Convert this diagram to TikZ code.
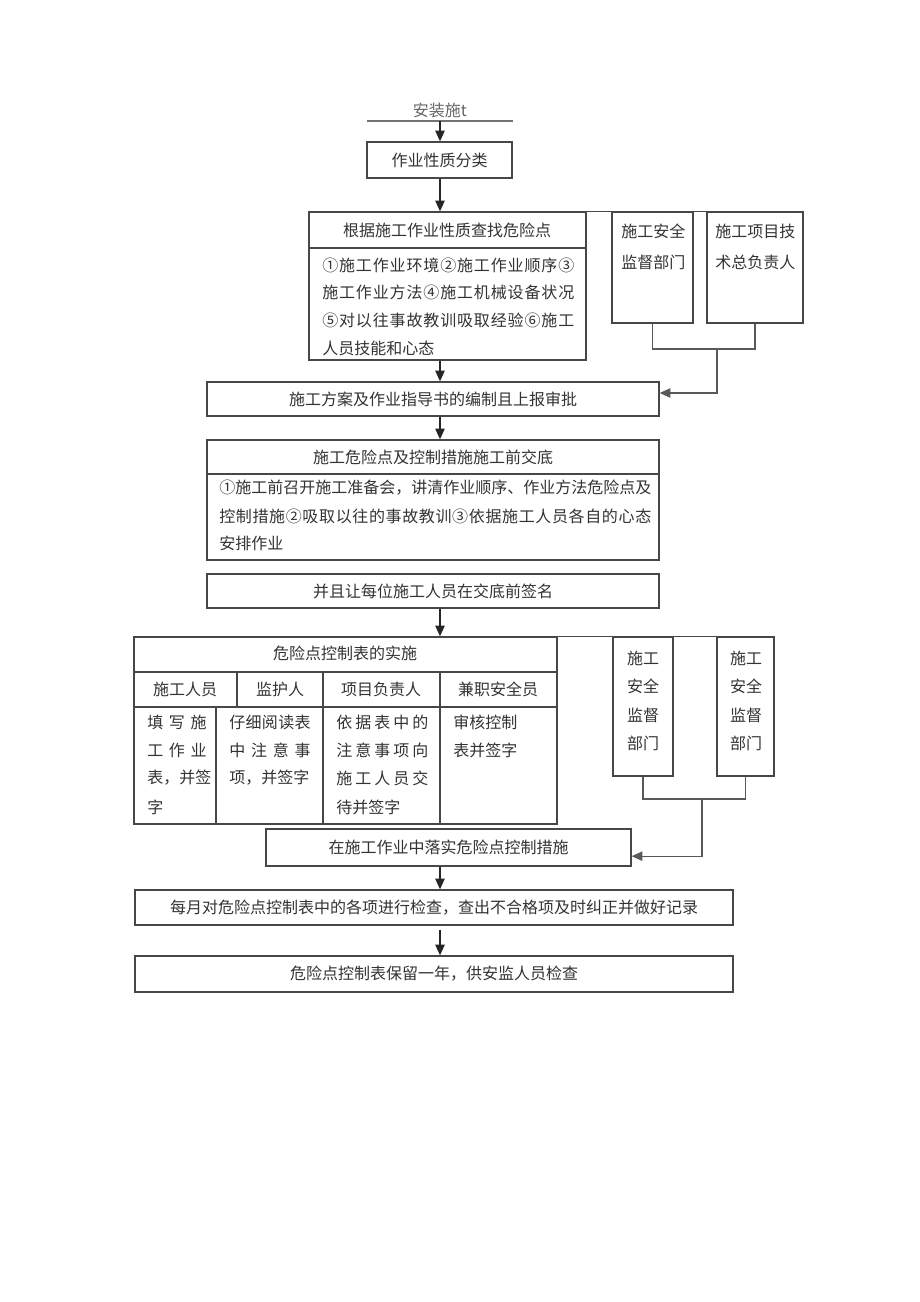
\documentclass[tikz,border=0pt]{standalone}
\usepackage{fontspec}
\setmainfont{Noto Sans CJK SC}
\usetikzlibrary{arrows.meta,fit}
\def\sprdEnd{sprdend}
\def\sprd#1{\sprdA#1\sprdEnd}
\def\sprdA#1{\ifx#1\sprdEnd\else#1\expandafter\sprdB\fi}
\def\sprdB#1{\ifx#1\sprdEnd\else\hfil#1\expandafter\sprdB\fi}
\newcommand\spl[2]{\hbox to #1pt{\sprd{#2}}}
\begin{document}
\begin{tikzpicture}[x=0.75pt,y=-0.75pt,
  txt/.style={inner sep=0pt,text=black!80,font=\fontsize{12}{14}\selectfont},
  tl/.style={txt,anchor=west},
  box/.style={draw=black!72,line width=1pt,inner sep=0pt},
  boxline/.style={draw=black!72,line width=1pt},
  cline/.style={draw=black!65,line width=0.8pt},
  arr/.style={draw=black!85,line width=1pt,-{Triangle[width=7pt,length=8pt]}},
  carr/.style={cline,-{Triangle[width=7pt,length=8pt]}}]
\fill[white] (0,0) rectangle (920,1302);
\useasboundingbox (0,0) rectangle (920,1302);
\coordinate (sx) at (440,0);
% title
\node[txt,text=black!60] (T) at (440,110) {安装施t};
\coordinate (ul) at (367,121);
\coordinate (ur) at (513,121);
\coordinate (ua) at (440,121);
\draw[draw=black!55,line width=0.8pt] (ul) -- (ur);
\node[box,fit={(367,142)(512,178)}] (B1) {};
\node[txt] (B1t) at (B1.center) {作业性质分类};
\draw[arr] (ua) -- (ua |- B1.north);
% B2
\node[box,fit={(309,212)(586,360)}] (B2) {};
\coordinate (d2) at (0,248);
\draw[boxline] (B2.west |- d2) -- (B2.east |- d2);
\node[txt] (B2t) at (447,230) {根据施工作业性质查找危险点};
\node[tl] (B2a) at (322,265) {\spl{189}{①施工作业环境②施工作业顺序③}};
\node[tl] (B2b) at (322,292) {\spl{189}{施工作业方法④施工机械设备状况}};
\node[tl] (B2c) at (322,320) {\spl{189}{⑤对以往事故教训吸取经验⑥施工}};
\node[tl] (B2d) at (322,348) {人员技能和心态};
\draw[arr] (B1.south -| sx) -- (B2.north -| sx);
% right boxes top
\node[box,fit={(612,212)(693,323)}] (R1) {};
\node[tl] (R1a) at (621,231) {施工安全};
\node[tl] (R1b) at (621,262) {监督部门};
\node[box,fit={(707,212)(803,323)}] (R2) {};
\node[tl] (R2a) at (715,231) {施工项目技};
\node[tl] (R2b) at (715,262) {术总负责人};
\draw[boxline] (B2.north east) -- (R2.north east);
% B3
\node[box,fit={(207,382)(659,416)}] (B3) {};
\node[txt] (B3t) at (B3.center) {施工方案及作业指导书的编制且上报审批};
\draw[arr] (B2.south -| sx) -- (B3.north -| sx);
\coordinate (j1) at (717,349);
\draw[cline] (R1.south) |- (j1) -| (R2.south);
\draw[carr] (j1) |- ([yshift=4.5pt]B3.east);
% B4
\node[box,fit={(207,440)(659,560)}] (B4) {};
\coordinate (d4) at (0,474);
\draw[boxline] (B4.west |- d4) -- (B4.east |- d4);
\node[txt] (B4t) at (433,457) {施工危险点及控制措施施工前交底};
\node[tl] (B4a) at (219,488) {\spl{324}{①施工前召开施工准备会，讲清作业顺序、作业方法危险点及}};
\node[tl] (B4b) at (219,516) {\spl{324}{控制措施②吸取以往的事故教训③依据施工人员各自的心态}};
\node[tl] (B4c) at (219,543) {安排作业};
\draw[arr] (B3.south -| sx) -- (B4.north -| sx);
% B5
\node[box,fit={(207,574)(659,608)}] (B5) {};
\node[txt] (B5t) at (B5.center) {并且让每位施工人员在交底前签名};
% table
\node[box,fit={(134,637)(557,824)}] (TB) {};
\draw[arr] (B5.south -| sx) -- (TB.north -| sx);
\coordinate (h1) at (0,672);
\coordinate (h2) at (0,707);
\coordinate (c1) at (237,0);
\coordinate (c1b) at (216,0);
\coordinate (c2) at (323,0);
\coordinate (c3) at (440,0);
\draw[boxline] (TB.west |- h1) -- (TB.east |- h1);
\draw[boxline] (TB.west |- h2) -- (TB.east |- h2);
\draw[boxline] (h1 -| c1) -- (h2 -| c1);
\draw[boxline] (h2 -| c1b) -- (TB.south -| c1b);
\draw[boxline] (h1 -| c2) -- (TB.south -| c2);
\draw[boxline] (h1 -| c3) -- (TB.south -| c3);
\node[txt] (TBt) at (345,653) {危险点控制表的实施};
\node[txt] (H1) at (185,689) {施工人员};
\node[txt] (H2) at (280,689) {监护人};
\node[txt] (H3) at (381,689) {项目负责人};
\node[txt] (H4) at (498,689) {兼职安全员};
\node[tl] (C1a) at (147,722) {\spl{44.5}{填写施}};
\node[tl] (C1b) at (147,750) {\spl{44.5}{工作业}};
\node[tl] (C1c) at (147,778) {\spl{44.5}{表，并签}};
\node[tl] (C1d) at (147,807) {字};
\node[tl] (C2a) at (229,722) {\spl{61}{仔细阅读表}};
\node[tl] (C2b) at (229,750) {\spl{61}{中注意事}};
\node[tl] (C2c) at (229,778) {\spl{58}{项，并签字}};
\node[tl] (C3a) at (336,722) {\spl{69}{依据表中的}};
\node[tl] (C3b) at (336,750) {\spl{69}{注意事项向}};
\node[tl] (C3c) at (336,778) {\spl{69}{施工人员交}};
\node[tl] (C3d) at (336,807) {待并签字};
\node[tl] (C4a) at (453,722) {审核控制};
\node[tl] (C4b) at (453,750) {表并签字};
% right boxes lower
\node[box,fit={(613,637)(673,776)}] (R3) {};
\node[txt] (R3a) at (643,658) {施工};
\node[txt] (R3b) at (643,686) {安全};
\node[txt] (R3c) at (643,715) {监督};
\node[txt] (R3d) at (643,743) {部门};
\node[box,fit={(717,637)(774,776)}] (R4) {};
\node[txt] (R4a) at (746,658) {施工};
\node[txt] (R4b) at (746,686) {安全};
\node[txt] (R4c) at (746,715) {监督};
\node[txt] (R4d) at (746,743) {部门};
\draw[boxline] (TB.north east) -- (R4.north east);
% B6
\node[box,fit={(266,829)(631,866)}] (B6) {};
\node[txt] (B6t) at (B6.center) {在施工作业中落实危险点控制措施};
\coordinate (j2) at (702,799);
\draw[cline] (R3.south) |- (j2) -| (R4.south);
\draw[carr] (j2) |- ([yshift=-6.5pt]B6.east);
% B7, B8
\node[box,fit={(135,890)(733,925)}] (B7) {};
\node[txt] (B7t) at (B7.center) {每月对危险点控制表中的各项进行检查，查出不合格项及时纠正并做好记录};
\node[box,fit={(135,956)(733,992)}] (B8) {};
\node[txt] (B8t) at (B8.center) {危险点控制表保留一年，供安监人员检查};
\draw[arr] (B6.south -| sx) -- (B7.north -| sx);
\draw[arr,shorten <=3pt] (B7.south -| sx) -- (B8.north -| sx);
\end{tikzpicture}
\end{document}
